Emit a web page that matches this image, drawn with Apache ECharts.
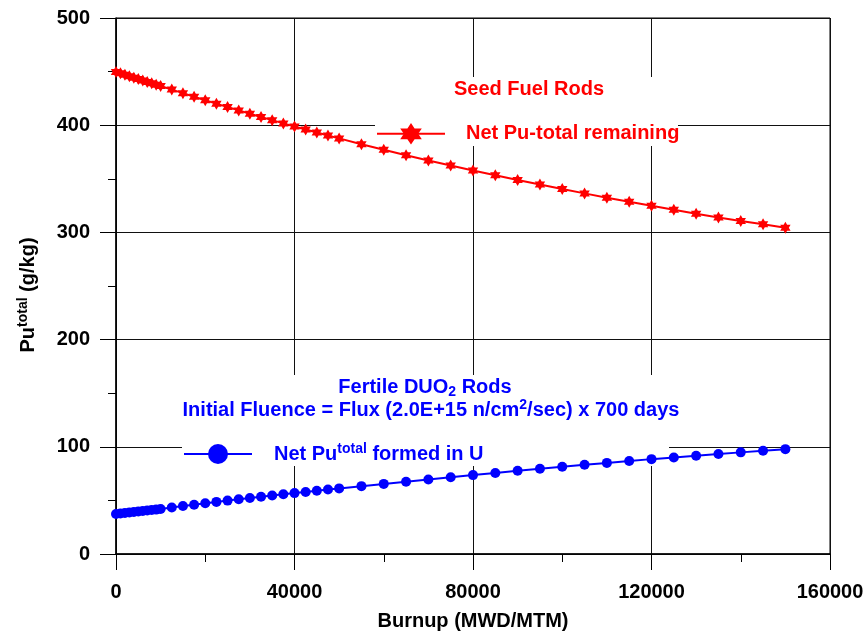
<!DOCTYPE html>
<html>
<head>
<meta charset="utf-8">
<script src="https://cdn.jsdelivr.net/npm/echarts@6/dist/echarts.min.js"></script>
<style>
  html, body { margin: 0; padding: 0; background: #fff; }
  #chart { width: 866px; height: 634px; }
</style>
</head>
<body>
<div id="chart"></div>
<script>
// Burnup points (MWD/MTM)
const burnup = [
  0, 1000, 2000, 3000, 4000, 5000, 6000, 7000, 8000, 9000, 10000,
  12500, 15000, 17500, 20000, 22500, 25000, 27500, 30000, 32500, 35000, 37500, 40000, 42500, 45000, 47500, 50000,
  55000, 60000, 65000, 70000, 75000, 80000, 85000, 90000, 95000, 100000, 105000, 110000, 115000, 120000,
  125000, 130000, 135000, 140000, 145000, 150000
];
// Seed fuel rods: net Pu-total remaining (g/kg)
const seedPu = [
  449.7, 448.4, 447.0, 445.7, 444.3, 443.0, 441.7, 440.4, 439.1, 437.8, 436.5,
  433.2, 429.9, 426.6, 423.3, 420.1, 416.9, 413.8, 410.7, 407.7, 404.7, 401.7, 398.8, 396.0, 393.2, 390.4, 387.7,
  382.3, 377.1, 372.0, 367.1, 362.4, 357.8, 353.3, 348.9, 344.6, 340.5, 336.4, 332.4, 328.5, 324.8,
  321.1, 317.5, 314.0, 310.7, 307.5, 304.4
];
// Fertile DUO2 rods: net Pu-total formed in U (g/kg)
const fertilePu = [
  37.3, 37.8, 38.3, 38.7, 39.2, 39.6, 40.1, 40.5, 41.0, 41.4, 41.9,
  43.3, 44.7, 46.0, 47.3, 48.6, 49.8, 51.0, 52.2, 53.4, 54.6, 55.7, 56.8, 57.9, 59.0, 60.1, 61.2,
  63.3, 65.4, 67.4, 69.5, 71.6, 73.6, 75.6, 77.6, 79.5, 81.4, 83.2, 85.0, 86.8, 88.5,
  90.1, 91.7, 93.3, 94.8, 96.3, 97.8
];
// Axis tick values
const xTicks = [0, 40000, 80000, 120000, 160000];
const yTicks = [0, 100, 200, 300, 400, 500];

const FONT = '"Liberation Sans", Arial, Helvetica, sans-serif';
const RED = '#ff0000';
const BLUE = '#0000ff';

// six-pointed star
const hexagram = 'path://M0,-10L2.89,-5L8.66,-5L5.77,0L8.66,5L2.89,5L0,10L-2.89,5L-8.66,5L-5.77,0L-8.66,-5L-2.89,-5Z';

const chart = echarts.init(document.getElementById('chart'), null, { renderer: 'canvas' });

const baseText = { fontFamily: FONT, fontWeight: 'bold', fontSize: 20 };

function axisCommon(ticks, margin) {
  return {
    type: 'value',
    min: ticks[0],
    max: ticks[ticks.length - 1],
    interval: ticks[1] - ticks[0],
    axisLine: { show: true, onZero: false, lineStyle: { color: '#000', width: 1.5 } },
    axisTick: { show: true, inside: false, length: 16, lineStyle: { color: '#000', width: 1 } },
    minorTick: { show: true, splitNumber: 2, length: 8, lineStyle: { color: '#000', width: 1 } },
    splitLine: { show: true, lineStyle: { color: '#111', width: 1 } },
    axisLabel: Object.assign({ color: '#000', margin: margin, formatter: v => String(v) }, baseText)
  };
}

const option = {
  backgroundColor: '#fff',
  animation: false,
  grid: {
    left: 116, right: 36, top: 18, bottom: 80,
    outerBoundsMode: 'none', containLabel: false,
    show: true, borderColor: '#000', borderWidth: 1, backgroundColor: 'transparent'
  },
  xAxis: Object.assign(axisCommon(xTicks, 28), {
    name: 'Burnup (MWD/MTM)',
    nameLocation: 'middle',
    nameGap: 57,
    nameTextStyle: Object.assign({ color: '#000' }, baseText)
  }),
  yAxis: Object.assign(axisCommon(yTicks, 26), {
    name: '{b|Pu}{s|total}{b| (g/kg)}',
    nameLocation: 'middle',
    nameGap: 76,
    nameTextStyle: Object.assign({
      color: '#000',
      padding: [0, 18, 0, 0],
      rich: {
        b: Object.assign({ color: '#000', lineHeight: 24 }, baseText),
        s: { fontFamily: FONT, fontWeight: 'bold', fontSize: 14, color: '#000', verticalAlign: 'top', lineHeight: 14 }
      }
    }, baseText)
  }),
  legend: [
    {
      data: ['Net Pu-total remaining'],
      left: 376, top: 123, padding: 0,
      itemWidth: 68, itemHeight: 27,
      textStyle: Object.assign({ color: RED, padding: [0, 0, 0, 16] }, baseText)
    },
    {
      data: ['Net Putotal formed in U'],
      left: 183, top: 442, padding: 0,
      itemWidth: 68, itemHeight: 25,
      formatter: () => '{b|Net Pu}{s|total}{b| formed in U}',
      textStyle: Object.assign({
        color: BLUE, padding: [0, 0, 0, 17],
        rich: {
          b: Object.assign({ color: BLUE, lineHeight: 24 }, baseText),
          s: { fontFamily: FONT, fontWeight: 'bold', fontSize: 14, color: BLUE, verticalAlign: 'top', lineHeight: 14 }
        }
      }, baseText)
    }
  ],
  graphic: [
    { type: 'rect', z: 1, silent: true, shape: { x: 375, y: 77, width: 303, height: 69 }, style: { fill: '#fff' } },
    { type: 'rect', z: 1, silent: true, shape: { x: 182, y: 375, width: 487, height: 91 }, style: { fill: '#fff' } },
    {
      type: 'text', z: 5, silent: true, x: 529, y: 89,
      style: { text: 'Seed Fuel Rods', fill: RED, align: 'center', verticalAlign: 'middle', font: 'bold 20px ' + FONT }
    },
    {
      type: 'text', z: 5, silent: true, x: 425, y: 387,
      style: {
        text: '{b|Fertile DUO}{u|2}{b| Rods}', fill: BLUE, align: 'center', verticalAlign: 'middle',
        rich: {
          b: Object.assign({ fill: BLUE, lineHeight: 24 }, baseText),
          u: { fontFamily: FONT, fontWeight: 'bold', fontSize: 14, fill: BLUE, verticalAlign: 'bottom', lineHeight: 14 }
        }
      }
    },
    {
      type: 'text', z: 5, silent: true, x: 431, y: 410,
      style: {
        text: '{b|Initial Fluence = Flux (2.0E+15 n/cm}{s|2}{b|/sec) x 700 days}', fill: BLUE, align: 'center', verticalAlign: 'middle',
        rich: {
          b: Object.assign({ fill: BLUE, lineHeight: 24 }, baseText),
          s: { fontFamily: FONT, fontWeight: 'bold', fontSize: 14, fill: BLUE, verticalAlign: 'top', lineHeight: 14 }
        }
      }
    }
  ],
  series: [
    {
      name: 'Net Pu-total remaining',
      type: 'line',
      data: burnup.map((b, i) => [b, seedPu[i]]),
      symbol: hexagram,
      symbolKeepAspect: true,
      symbolSize: 12,
      showAllSymbol: true,
      lineStyle: { color: RED, width: 2 },
      itemStyle: { color: RED, borderWidth: 0 },
      z: 3
    },
    {
      name: 'Net Putotal formed in U',
      type: 'line',
      data: burnup.map((b, i) => [b, fertilePu[i]]),
      symbol: 'circle',
      symbolSize: 10,
      showAllSymbol: true,
      lineStyle: { color: BLUE, width: 2 },
      itemStyle: { color: BLUE, borderWidth: 0 },
      z: 3
    }
  ]
};

chart.setOption(option);
</script>
</body>
</html>
